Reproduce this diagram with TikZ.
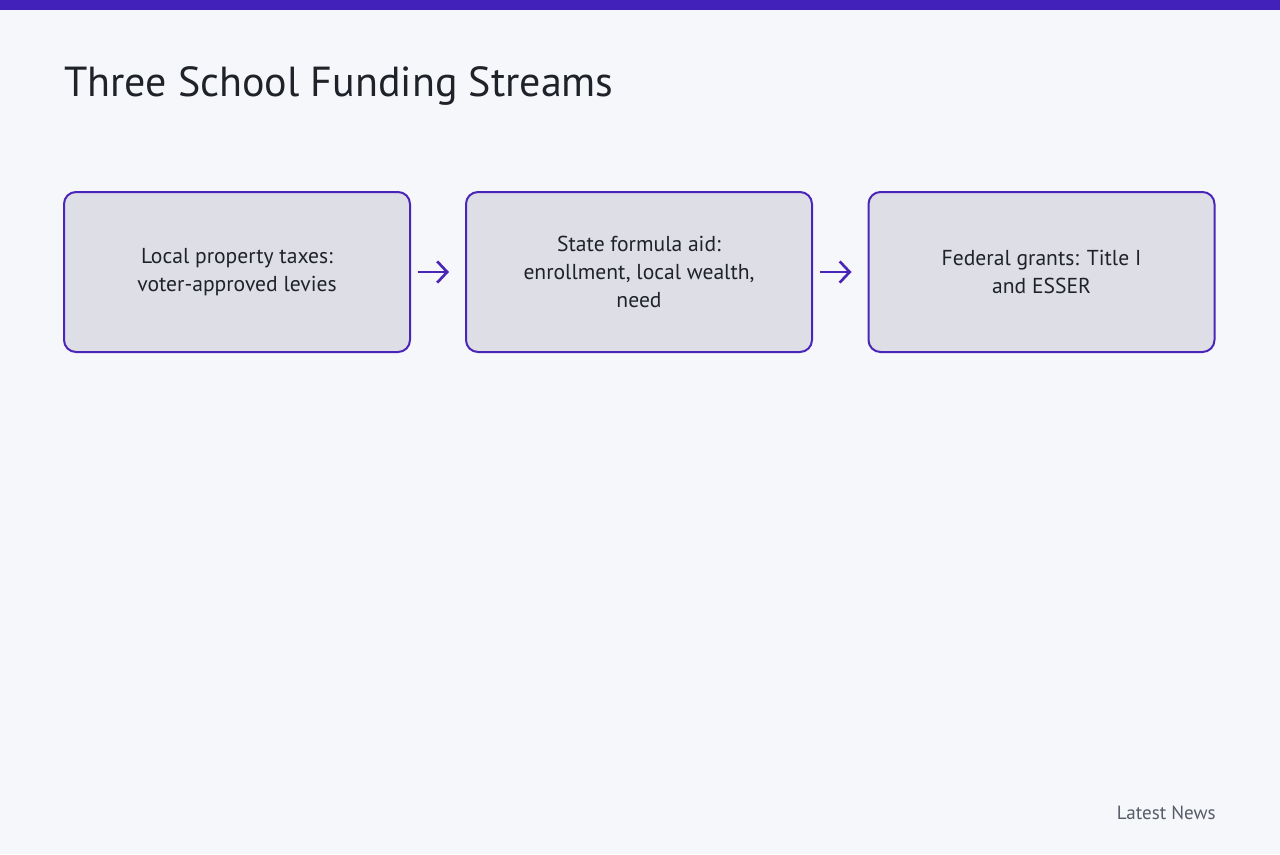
\documentclass[tikz,border=0pt]{standalone}
\usepackage{fontspec}
\setmainfont{PT Sans}
\usetikzlibrary{positioning}
\usetikzlibrary{arrows.meta}
\usepackage{color}
\definecolor{pagebg}{HTML}{F6F7FA}
\definecolor{barpurple}{HTML}{4121BA}
\definecolor{boxfill}{HTML}{DEDFE6}
\definecolor{boxline}{HTML}{4A26B8}
\definecolor{inktext}{HTML}{1F2329}
\definecolor{graytext}{HTML}{575C68}

\begin{document}
\begin{tikzpicture}[
x=0.75pt, y=-0.75pt,
streambox/.style={rectangle, rounded corners=9pt, draw=boxline, fill=boxfill, line width=1.5pt, minimum width=259.5pt, minimum height=120pt, align=center, text=inktext, font=\fontsize{16.2}{21}\selectfont},
flowarrow/.style={-{Straight Barb[length=7.5pt, width=16pt]}, draw=boxline, line width=2pt},
]
%Background
\fill[pagebg] (0,0) rectangle (1280,854);
\fill[barpurple] (0,0) rectangle (1280,10);

%Nodes
\node[anchor=base west, inner sep=0pt, text=inktext, font=\fontsize{31.5}{36}\selectfont] at (64,96) (title) {Three School Funding Streams};

\node[streambox]    at (237,272)      (local_taxes)     [] {Local property taxes:\\voter-approved levies};
\node[streambox]    at (639,272)      (state_aid)       [] {State formula aid:\\enrollment, local wealth,\\need};
\node[streambox]    at (1041.5,272)   (federal_grants)  [] {Federal grants: Title I\\and ESSER};

\node[anchor=base east, inner sep=0pt, text=graytext, font=\fontsize{14.3}{16}\selectfont] at (1216,819) (footer) {Latest News};

%Lines
\draw[flowarrow] ([xshift=5]local_taxes.east) -- ([xshift=-12]state_aid.west);
\draw[flowarrow] ([xshift=5]state_aid.east) -- ([xshift=-12]federal_grants.west);

\end{tikzpicture}
\end{document}
